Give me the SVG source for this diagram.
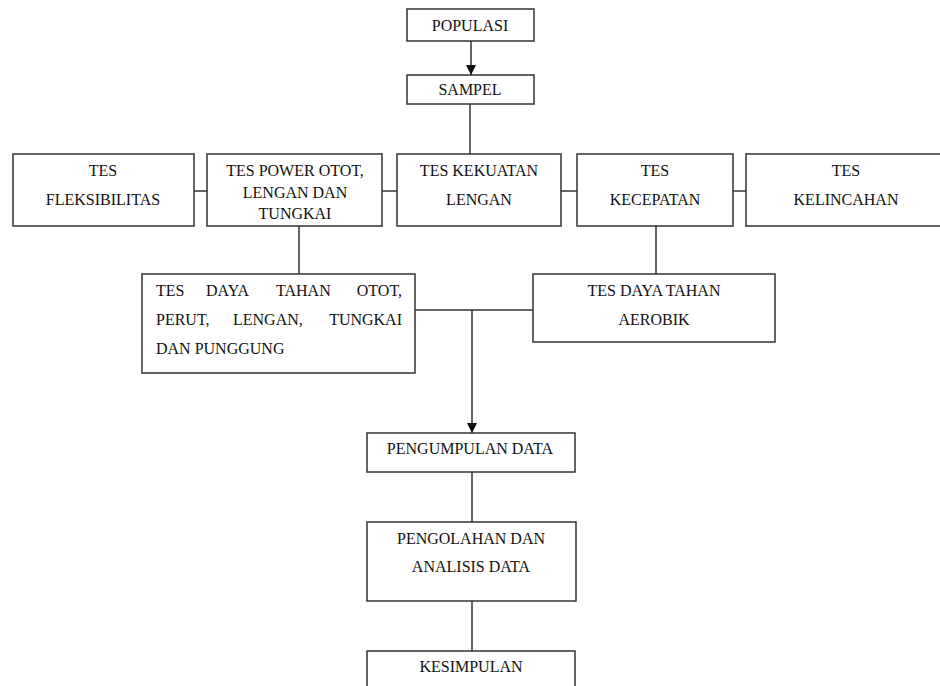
<svg xmlns="http://www.w3.org/2000/svg" width="940" height="686" viewBox="0 0 940 686">
<style>
.b{fill:#fff;stroke:#333;stroke-width:1.5}
.c{fill:none;stroke:#333;stroke-width:1.5}
text{font-family:"Liberation Serif","Times New Roman",serif;font-size:16px;fill:#111}
.m{text-anchor:middle}
.e{text-anchor:end}
</style>
<defs>
<marker id="ar" markerWidth="10" markerHeight="10" refX="10" refY="5" orient="auto" markerUnits="userSpaceOnUse">
<path d="M0,0 L10,5 L0,10 Z" fill="#111"/>
</marker>
</defs>
<rect width="940" height="686" fill="#fff"/>
<g id="connectors">
<line class="c" x1="471" y1="41" x2="471" y2="75" marker-end="url(#ar)"/>
<line class="c" x1="470" y1="104" x2="470" y2="154"/>
<line class="c" x1="194" y1="191" x2="207" y2="191"/>
<line class="c" x1="382" y1="191" x2="397" y2="191"/>
<line class="c" x1="561" y1="191" x2="577" y2="191"/>
<line class="c" x1="733" y1="191" x2="746" y2="191"/>
<line class="c" x1="299" y1="226" x2="299" y2="274"/>
<line class="c" x1="656" y1="226" x2="656" y2="274"/>
<line class="c" x1="415" y1="310" x2="533" y2="310"/>
<line class="c" x1="472" y1="310" x2="472" y2="433" marker-end="url(#ar)"/>
<line class="c" x1="472" y1="472" x2="472" y2="522"/>
<line class="c" x1="472" y1="601" x2="472" y2="651"/>
</g>
<g id="populasi">
<rect class="b" x="407" y="9" width="127" height="32"/>
<text class="m" x="470" y="31">POPULASI</text>
</g>
<g id="sampel">
<rect class="b" x="407" y="75" width="127" height="29"/>
<text class="m" x="470" y="95">SAMPEL</text>
</g>
<g id="fleksibilitas">
<rect class="b" x="13" y="154" width="181" height="72"/>
<text class="m" x="103" y="176">TES</text>
<text class="m" x="103" y="205">FLEKSIBILITAS</text>
</g>
<g id="power">
<rect class="b" x="207" y="154" width="175" height="72"/>
<text class="m" x="295" y="176">TES POWER OTOT,</text>
<text class="m" x="295" y="198">LENGAN DAN</text>
<text class="m" x="295" y="219">TUNGKAI</text>
</g>
<g id="kekuatan">
<rect class="b" x="397" y="154" width="164" height="72"/>
<text class="m" x="479" y="176">TES KEKUATAN</text>
<text class="m" x="479" y="205">LENGAN</text>
</g>
<g id="kecepatan">
<rect class="b" x="577" y="154" width="156" height="72"/>
<text class="m" x="655" y="176">TES</text>
<text class="m" x="655" y="205">KECEPATAN</text>
</g>
<g id="kelincahan">
<rect class="b" x="746" y="154" width="200" height="72"/>
<text class="m" x="846" y="176">TES</text>
<text class="m" x="846" y="205">KELINCAHAN</text>
</g>
<g id="daya-tahan-otot">
<rect class="b" x="142" y="274" width="273" height="99"/>
<text x="156" y="296">TES</text>
<text x="206" y="296">DAYA</text>
<text x="276" y="296">TAHAN</text>
<text class="e" x="402" y="296">OTOT,</text>
<text x="156" y="325">PERUT,</text>
<text x="233" y="325">LENGAN,</text>
<text class="e" x="402" y="325">TUNGKAI</text>
<text x="156" y="354">DAN PUNGGUNG</text>
</g>
<g id="aerobik">
<rect class="b" x="533" y="274" width="242" height="68"/>
<text class="m" x="654" y="296">TES DAYA TAHAN</text>
<text class="m" x="654" y="325">AEROBIK</text>
</g>
<g id="pengumpulan">
<rect class="b" x="367" y="433" width="208" height="39"/>
<text class="m" x="470" y="454">PENGUMPULAN DATA</text>
</g>
<g id="pengolahan">
<rect class="b" x="367" y="522" width="209" height="79"/>
<text class="m" x="471" y="544">PENGOLAHAN DAN</text>
<text class="m" x="471" y="572">ANALISIS DATA</text>
</g>
<g id="kesimpulan">
<rect class="b" x="367" y="651" width="208" height="45"/>
<text class="m" x="471" y="672">KESIMPULAN</text>
</g>
</svg>
